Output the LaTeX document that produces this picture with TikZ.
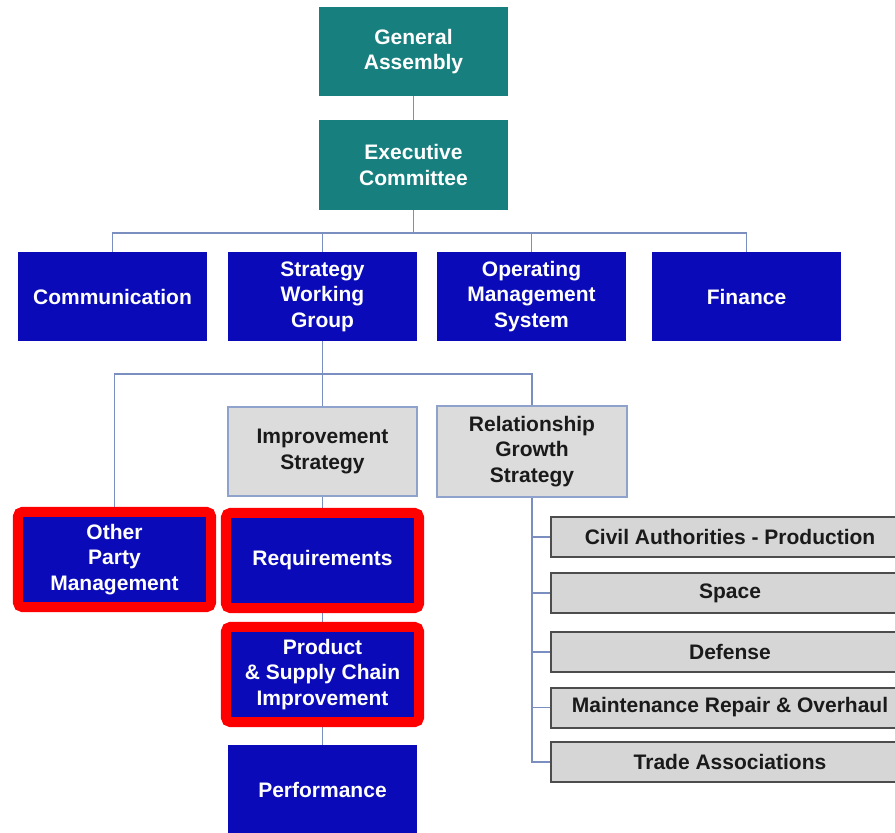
\documentclass[tikz,border=0pt]{standalone}
\usepackage{fontspec}
\setmainfont{Liberation Sans}
\usetikzlibrary{backgrounds}
\definecolor{teal1}{HTML}{17807F}
\definecolor{blue1}{HTML}{0A0AB8}
\definecolor{line1}{HTML}{7A8FBF}
\definecolor{gray1}{HTML}{D6D6D6}
\definecolor{gray2}{HTML}{DCDCDC}
\definecolor{grayedge}{HTML}{4D4D4D}
\definecolor{lightedge}{HTML}{8EA2CC}
\definecolor{textdark}{HTML}{1A1A1A}
\begin{document}
\begin{tikzpicture}[x=1pt,y=-1pt,
  every node/.style={font=\fontsize{21pt}{25.5pt}\selectfont\bfseries, align=center, inner sep=0pt},
  tealbox/.style={rectangle, fill=teal1, text=white, minimum width=189pt, minimum height=89pt},
  bluebox/.style={rectangle, fill=blue1, text=white, minimum width=189pt, minimum height=89pt},
  stratbox/.style={rectangle, fill=gray2, draw=lightedge, line width=1.5pt, text=textdark, minimum width=189pt, minimum height=89pt},
  listbox/.style={rectangle, fill=gray1, draw=grayedge, line width=2pt, text=textdark, minimum width=358pt, minimum height=40pt},
  conn/.style={draw=line1, line width=1.8pt},
  redframe/.style={draw=red, line width=10pt, rounded corners=5pt}]
\useasboundingbox (0,0) rectangle (895,833);
\clip (0,0) rectangle (895,833);

\node[tealbox] (ga) at (413.5,51.5) {General\\Assembly};
\node[tealbox, minimum height=90pt] (ec) at (413.5,165) {Executive\\Committee};

\node[bluebox] (com) at (112.5,296.5) {Communication};
\node[bluebox] (swg) at (322.5,296.5) {Strategy\\Working\\Group};
\node[bluebox] (oms) at (531.5,296.5) {Operating\\Management\\System};
\node[bluebox] (fin) at (746.5,296.5) {Finance};

\node[stratbox] (imp) at (322.5,451.5) {Improvement\\Strategy};
\node[stratbox, minimum width=190pt, minimum height=91pt] (rel) at (532,451.5) {Relationship\\Growth\\Strategy};

\node[bluebox, minimum width=183pt, minimum height=85pt] (opm) at (114.5,559.5) {Other\\Party\\Management};
\node[bluebox, minimum width=183pt, minimum height=85pt] (req) at (322.5,560.5) {Requirements};
\node[bluebox, minimum width=183pt, minimum height=85pt] (psc) at (322.5,674.5) {Product\\\& Supply Chain\\Improvement};
\node[bluebox, minimum height=90pt] (perf) at (322.5,790) {Performance};

\node[listbox] (civ) at (730,537) {Civil Authorities - Production};
\node[listbox] (spa) at (730,593) {Space};
\node[listbox] (def) at (730,652) {Defense};
\node[listbox] (mro) at (730,707.5) {Maintenance Repair \& Overhaul};
\node[listbox] (tra) at (730,762) {Trade Associations};

\draw[redframe] ([shift={(-5,-5)}]opm.north west) rectangle ([shift={(5,5)}]opm.south east);
\draw[redframe] ([shift={(-5,-5)}]req.north west) rectangle ([shift={(5,5)}]req.south east);
\draw[redframe] ([shift={(-5,-5)}]psc.north west) rectangle ([shift={(5,5)}]psc.south east);

\begin{scope}[on background layer]
\coordinate (bus1) at (413.5,233);
\coordinate (bus2) at (322.5,374);
\draw[conn] (ga.south) -- (ec.north);
\draw[conn] (ec.south) -- (bus1);
\draw[conn] (com.north) |- (bus1) -| (fin.north);
\draw[conn] (swg.north) -- (swg.north |- bus1);
\draw[conn] (oms.north) -- (oms.north |- bus1);
\draw[conn] (swg.south) -- (bus2);
\draw[conn] (opm.north) |- (bus2) -| (rel.north);
\draw[conn] (bus2) -- (imp.north);
\draw[conn] (imp.south) -- (req.north);
\draw[conn] (req.south) -- (psc.north);
\draw[conn] (psc.south) -- (perf.north);
\foreach \n in {civ,spa,def,mro,tra} \draw[conn] (rel.south) |- (\n.west);
\end{scope}
\end{tikzpicture}
\end{document}
